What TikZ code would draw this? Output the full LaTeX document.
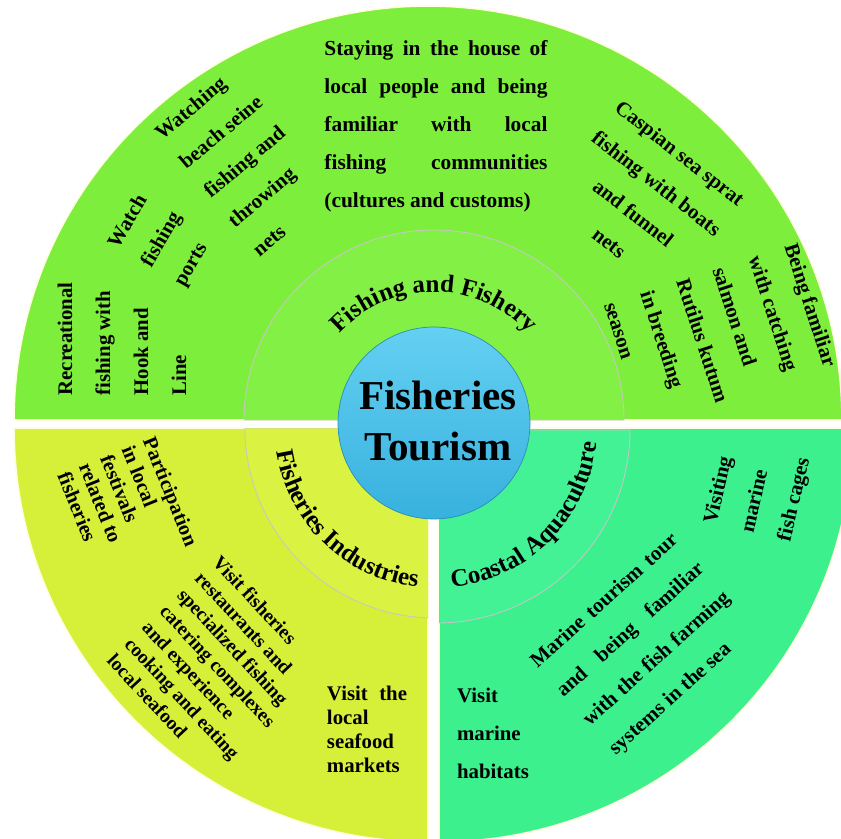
\documentclass[tikz,border=0pt]{standalone}
\usepackage{fontspec}
\setmainfont{Liberation Serif}
\usetikzlibrary{positioning,decorations.text}

\definecolor{fishgreen}{HTML}{7DEE3C}
\definecolor{fishring}{HTML}{82F044}
\definecolor{indyellow}{HTML}{D6F03A}
\definecolor{indring}{HTML}{DAF241}
\definecolor{aquagreen}{HTML}{3CF08E}
\definecolor{aquaring}{HTML}{43F294}
\definecolor{ballhigh}{HTML}{64D0F2}
\definecolor{balllow}{HTML}{37B1DE}
\definecolor{gapcream}{HTML}{FFFDE0}

\newcommand{\fsz}[2]{\bfseries\fontsize{#1}{#2}\selectfont}
\newcommand{\jline}[2]{\makebox[#1][s]{#2}}

\begin{document}
\begin{tikzpicture}[x=0.025cm,y=0.025cm,
  piece/.style={draw=gapcream,line width=1.2pt},
  ringpiece/.style={draw=black!22,line width=0.6pt},
  blk/.style={inner sep=0pt,align=left,font=\fsz{14.8}{27}},
  ringtext/.style={decorate,decoration={text along path,text align=center,
     text={|\fsz{17.8}{20}|#1}}}]

\useasboundingbox (0,0) rectangle (841,838);
\clip (0,0) rectangle (841,838);

% three pieces
\path[fill=fishgreen,piece] (14,418) arc[start angle=180,end angle=0,radius=414] -- cycle;
\path[fill=indyellow,piece] (428,410) -- (14,410) arc[start angle=180,end angle=270,radius=414] -- cycle;
\path[fill=aquagreen,piece] (439,410) -- (439,-4) arc[start angle=270,end angle=360,radius=414] -- cycle;

% inner rings
\path[fill=fishring,ringpiece] (244,418) arc[start angle=180,end angle=0,radius=190] -- cycle;
\begin{scope}
  \clip (428,410) -- (14,410) arc[start angle=180,end angle=270,radius=414] -- cycle;
  \path[fill=indring,ringpiece] (435,410) -- (245,410) arc[start angle=180,end angle=270,radius=190] -- cycle;
\end{scope}
\begin{scope}
  \clip (439,410) -- (439,-4) arc[start angle=270,end angle=360,radius=414] -- cycle;
  \path[fill=aquaring,ringpiece] (437,408) -- (437,215) arc[start angle=270,end angle=360,radius=193] -- cycle;
\end{scope}

% ring labels
\path[ringtext={Fishing and Fishery}] ([shift={(434,418)}]170:128) arc[start angle=170,end angle=10,radius=128];
\path[ringtext={Fisheries Industries}] ([shift={(435,410)}]146:160) arc[start angle=146,end angle=306,radius=160];
\path[ringtext={Coastal Aquaculture}] ([shift={(437,410)}]235:160) arc[start angle=235,end angle=395,radius=160];

% centre
\shade[top color=ballhigh,bottom color=balllow,draw=balllow!80!black,line width=0.5pt] (434,415) circle[radius=96];
\node[align=center,font=\fsz{29.2}{35.6}] (title) at (438,417) {Fisheries\\Tourism};

% fishing and fishery
\node[blk,font=\fsz{15.2}{27}] (stay) at (436,712) {\jline{5.575cm}{Staying in the house of}\\
  \jline{5.575cm}{local people and being}\\ \jline{5.575cm}{familiar with local}\\
  \jline{5.575cm}{fishing communities}\\ (cultures and customs)};
\node[blk,rotate=40] (watching) at (245,677) {Watching\\ beach seine\\ fishing and\\ throwing\\ nets};
\node[blk,rotate=60] (watch) at (162,598) {Watch\\ fishing\\ ports};
\node[blk,rotate=90] (recre) at (122,499) {Recreational\\ fishing with\\ Hook and\\ Line};
\node[blk,rotate=-38] (sprat) at (645,640) {Caspian sea sprat\\ fishing with boats\\
  \hspace*{0.775cm}and funnel\\ \hspace*{1.5cm}nets};
\node[blk,rotate=-72] (salmon) at (721,503) {Being familiar\\ with catching\\ salmon and\\
  Rutilus kutum\\ in breeding\\ season};

% fisheries industries
\node[blk,rotate=-68,font=\fsz{14.6}{16.4}] (festival) at (128,329) {Participation\\ in local\\
  festivals\\ related to\\ fisheries};
\node[blk,rotate=-47,font=\fsz{13.9}{17.1}] (restaurant) at (218,172) {Visit fisheries\\
  restaurants and\\ specialized fishing\\ catering complexes\\ and experience\\
  cooking and eating\\ local seafood};
\node[blk,font=\fsz{14.8}{17.1}] (market) at (367,109) {\jline{2cm}{Visit the}\\ local\\ seafood\\ markets};

% coastal aquaculture
\node[blk,rotate=77] (cages) at (758,347) {Visiting\\ marine\\ fish cages};
\node[blk,rotate=42,font=\fsz{14.8}{27.7}] (tour) at (644,193) {\jline{4.75cm}{Marine tourism tour}\\
  \jline{4.75cm}{and being familiar}\\ \jline{4.75cm}{with the fish farming}\\ systems in the sea};
\node[blk] (habitat) at (493,105) {Visit\\ marine\\ habitats};
\end{tikzpicture}
\end{document}
